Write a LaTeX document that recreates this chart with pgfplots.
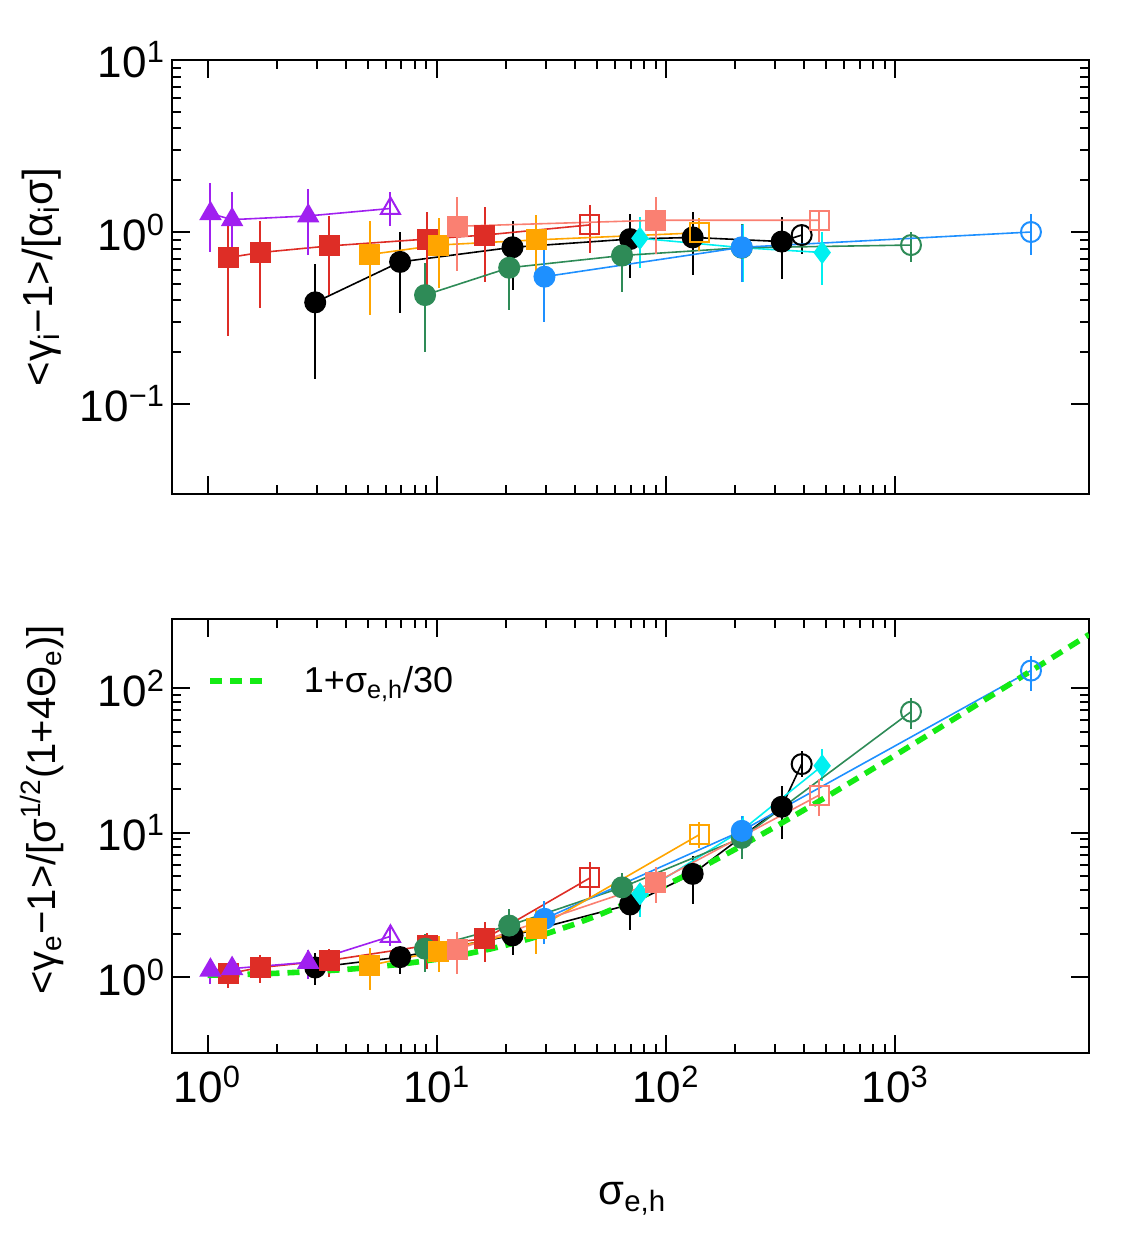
\documentclass[border=0pt]{standalone}
\usepackage{fontspec}
\setmainfont{Liberation Sans}
\usepackage{pgfplots}
\usepackage{pgfplotstable}
\pgfplotsset{compat=1.18}

\definecolor{cpurple}{RGB}{160,32,240}
\definecolor{cred}{RGB}{222,45,38}
\definecolor{csalmon}{RGB}{250,128,114}
\definecolor{corange}{RGB}{255,165,0}
\definecolor{cgreen}{RGB}{46,139,87}
\definecolor{cblue}{RGB}{30,144,255}
\definecolor{ccyan}{RGB}{0,240,240}
\definecolor{clime}{RGB}{20,235,20}

\pgfplotstableread{
x ty tlo thi by blo bhi
1.03 1.28 0.77 1.92 1.12 0.90 1.35
1.28 1.18 0.70 1.70 1.15 0.93 1.38
2.75 1.24 0.74 1.77 1.27 0.98 1.55
6.28 1.37 1.09 1.70 1.92 1.66 2.28
}\purpledata
\pgfplotstableread{
x ty tlo thi by blo bhi
1.23 0.71 0.25 1.18 1.06 0.84 1.24
1.70 0.76 0.36 1.16 1.17 0.91 1.42
3.40 0.83 0.43 1.24 1.31 1.00 1.58
9.07 0.91 0.42 1.31 1.66 1.15 2.02
16.2 0.96 0.515 1.39 1.85 1.27 2.41
46.6 1.10 0.76 1.43 4.87 3.49 6.24
}\reddata
\pgfplotstableread{
x ty tlo thi by blo bhi
2.95 0.39 0.14 0.65 1.17 0.88 1.47
6.92 0.67 0.34 1.00 1.38 1.05 1.62
21.4 0.815 0.46 1.16 1.95 1.42 2.6
69.7 0.91 0.54 1.28 3.19 2.14 4.7
130.7 0.93 0.56 1.31 5.19 3.22 6.94
319.6 0.88 0.53 1.22 15.1 9.05 21.1
390.7 0.96 0.75 1.10 29.8 24.1 36.8
}\blackdata
\pgfplotstableread{
x ty tlo thi by blo bhi
5.1 0.74 0.33 1.16 1.21 0.82 1.60
10.2 0.84 0.47 1.20 1.52 1.09 1.92
27.2 0.90 0.59 1.25 2.17 1.46 2.9
139.7 0.99 0.78 1.20 9.69 7.9 11.8
}\orangedata
\pgfplotstableread{
x ty tlo thi by blo bhi
12.3 1.08 0.59 1.59 1.56 1.06 2.05
90.4 1.17 0.75 1.60 4.54 3.25 5.77
466 1.17 0.88 1.35 18.2 13.1 23.4
}\salmondata
\pgfplotstableread{
x ty tlo thi by blo bhi
8.89 0.43 0.20 0.66 1.58 1.09 2.0
20.7 0.62 0.35 0.88 2.28 1.71 2.98
64.3 0.73 0.45 1.0 4.19 3.3 5.3
214 0.81 0.51 1.12 9.2 6.6 12.7
1171 0.84 0.67 1.0 68.6 52 85
}\greendata
\pgfplotstableread{
x ty tlo thi by blo bhi
29.5 0.55 0.30 0.81 2.54 1.71 3.39
214 0.815 0.51 1.10 10.3 8.0 13.1
3908 1.0 0.74 1.27 132 95 166
}\bluedata
\pgfplotstableread{
x ty tlo thi by blo bhi
77 0.92 0.62 1.22 3.78 2.6 4.5
216 0.81 0.51 1.11 10.5 8.0 13.0
480 0.76 0.49 1.00 29.0 22.8 37.9
}\cyandata
\pgfplotstableread{
x y
1 1.0333
1.5 1.05
2 1.0667
3 1.1
4 1.1333
5 1.1667
7 1.2333
10 1.3333
13 1.4333
17 1.5667
20 1.6667
25 1.8333
30 2
40 2.3333
50 2.6667
70 3.3333
100 4.3333
150 6
200 7.6667
300 11
500 17.667
700 24.333
1000 34.333
1500 51
2000 67.667
3000 101
5000 167.67
7000 234.33
}\modeldata

\newcommand{\closedpart}[5]{%
  \addplot[#2, line width=0.8pt, mark=none, forget plot] table[x=x, y=#5y] {#1};
  \addplot[#2, only marks, #3, line width=1pt, forget plot,
    skip coords between index={#4}{99},
    error bars/y dir=both, error bars/y explicit, error bars/error mark=none,
    error bars/error bar style={line width=1pt, solid}]
    table[x=x, y=#5y, y error plus expr=\thisrow{#5hi}-\thisrow{#5y},
          y error minus expr=\thisrow{#5y}-\thisrow{#5lo}] {#1};
}
\newcommand{\openpart}[5]{%
  \addplot[#2, only marks, #3, line width=1pt, forget plot,
    skip coords between index={0}{#4},
    error bars/y dir=both, error bars/y explicit, error bars/error mark=none,
    error bars/error bar style={line width=1pt, solid}]
    table[x=x, y=#5y, y error plus expr=\thisrow{#5hi}-\thisrow{#5y},
          y error minus expr=\thisrow{#5y}-\thisrow{#5lo}] {#1};
}
\newcommand{\allseries}[1]{%
  \closedpart{\blackdata}{black}{mark=*,mark size=5pt}{6}{#1}
  \openpart{\blackdata}{black}{mark=o,mark size=5pt}{6}{#1}
  \closedpart{\reddata}{cred}{mark=square*,mark size=4.75pt}{5}{#1}
  \openpart{\reddata}{cred}{mark=square,mark size=4.75pt}{5}{#1}
  \closedpart{\purpledata}{cpurple}{mark=triangle*,mark size=5.5pt}{3}{#1}
  \openpart{\purpledata}{cpurple}{mark=triangle,mark size=5.5pt}{3}{#1}
  \closedpart{\cyandata}{ccyan}{mark=diamond*,mark size=5pt}{3}{#1}
  \closedpart{\greendata}{cgreen}{mark=*,mark size=5pt}{4}{#1}
  \openpart{\greendata}{cgreen}{mark=o,mark size=5pt}{4}{#1}
  \closedpart{\bluedata}{cblue}{mark=*,mark size=5pt}{2}{#1}
  \openpart{\bluedata}{cblue}{mark=o,mark size=5pt}{2}{#1}
  \closedpart{\orangedata}{corange}{mark=square*,mark size=4.75pt}{3}{#1}
  \openpart{\orangedata}{corange}{mark=square,mark size=4.75pt}{3}{#1}
  \closedpart{\salmondata}{csalmon}{mark=square*,mark size=4.75pt}{2}{#1}
  \openpart{\salmondata}{csalmon}{mark=square,mark size=4.75pt}{2}{#1}
}

\begin{document}
\begin{tikzpicture}
\useasboundingbox (0,0) rectangle (573pt,620pt);
\begin{axis}[
  scale only axis, width=458.5pt, height=217pt,
  xmode=log, ymode=log, xmin=0.7, xmax=7000,
  axis line style={line width=1pt},
  every tick/.style={line width=1pt, black},
  major tick length=9pt, minor tick length=4.5pt,
  tick align=inside,
  tick label style={font=\fontsize{22}{26}\selectfont},
  label style={font=\fontsize{21}{25}\selectfont},
  xtick={1,10,100,1000},
  at={(86pt,373pt)}, anchor=south west,
  ymin=0.03, ymax=10,
  ytick={0.1,1,10},
  yticklabels={10\textsuperscript{−1},10\textsuperscript{0},10\textsuperscript{1}},
  xticklabels={},
  ylabel={<γ\textsubscript{i}−1>/[α\textsubscript{i}σ]},
  ylabel style={at={(axis description cs:-0.142,0.5)}, anchor=center},
]
\allseries{t}
\end{axis}

\begin{axis}[
  scale only axis, width=458.5pt, height=217pt,
  xmode=log, ymode=log, xmin=0.7, xmax=7000,
  axis line style={line width=1pt},
  every tick/.style={line width=1pt, black},
  major tick length=9pt, minor tick length=4.5pt,
  tick align=inside,
  tick label style={font=\fontsize{22}{26}\selectfont},
  xticklabel style={yshift=-3pt},
  label style={font=\fontsize{20}{24}\selectfont},
  xtick={1,10,100,1000},
  at={(86pt,93.5pt)}, anchor=south west,
  ymin=0.3, ymax=300,
  ytick={1,10,100},
  yticklabels={10\textsuperscript{0},10\textsuperscript{1},10\textsuperscript{2}},
  xticklabels={10\textsuperscript{0},10\textsuperscript{1},10\textsuperscript{2},10\textsuperscript{3}},
  ylabel={<γ\textsubscript{e}−1>/[σ\textsuperscript{1/2}(1+4Θ\textsubscript{e})]},
  ylabel style={at={(axis description cs:-0.142,0.56)}, anchor=center},
  xlabel={σ\textsubscript{e,h}},
  xlabel style={at={(axis description cs:0.502,-0.35)}, anchor=base, font=\fontsize{21}{25}\selectfont},
  legend style={at={(axis description cs:0.038,0.857)}, anchor=west, draw=none, fill=none,
    font=\fontsize{18}{22}\selectfont, inner sep=0pt,
    /tikz/every odd column/.append style={column sep=15pt}},
  legend image code/.code={\draw[#1] (0pt,0pt) -- (28.5pt,0pt);},
]
\allseries{b}
\addplot[clime, line width=2.8pt, dash pattern=on 6pt off 4pt, mark=none] table[x=x,y=y] {\modeldata};
\addlegendentry{1+σ\textsubscript{e,h}/30}
\end{axis}
\end{tikzpicture}
\end{document}
